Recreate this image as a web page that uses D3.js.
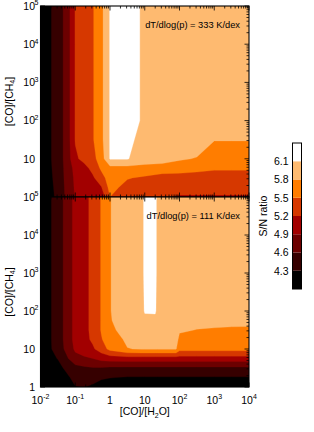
<!DOCTYPE html>
<html>
<head>
<meta charset="UTF-8">
<script src="https://cdn.jsdelivr.net/npm/d3@7"></script>
<style>
  body { margin: 0; background: #fff; }
  text { font-family: "Liberation Sans", Arial, Helvetica, sans-serif; fill: #000; }
</style>
</head>
<body>
<svg id="chart" width="314" height="432"></svg>
<script>
// S/N contour levels and the colours between them (below 4.3 is black)
const levels = [4.3, 4.6, 4.9, 5.2, 5.5, 5.8, 6.1];
const levelColors = ["#000000", "#360000", "#6c0000", "#a20000", "#d63800", "#ff7d00", "#feba70", "#ffffff"];

const xDecades = [-2, -1, 0, 1, 2, 3, 4];
const yDecades = [0, 1, 2, 3, 4, 5];

// top panel: dT/dlog(p) = 333 K/dex
// grid nodes in log10([CO]/[H2O]) and log10([CO]/[CH4]), rows from top to bottom
const topLogX = [-2, -1.75, -1.5, -1.25, -1, -0.75, -0.5, -0.25, 0, 0.5, 1, 1.5, 2, 2.5, 3, 3.5, 4];
const topLogY = [5, 4, 3, 2, 1.5, 1, 0.75, 0.5, 0.25, 0];
const topSN = [
  [4.0, 4.25, 4.45, 4.7, 5.22, 5.33, 5.47, 5.72, 6.12, 6.3, 6.02, 5.95, 5.95, 5.95, 5.95, 5.95, 5.95],
  [4.0, 4.25, 4.45, 4.7, 5.22, 5.33, 5.47, 5.72, 6.12, 6.3, 6.02, 5.95, 5.95, 5.95, 5.95, 5.95, 5.95],
  [4.0, 4.25, 4.45, 4.7, 5.22, 5.33, 5.47, 5.72, 6.12, 6.3, 6.02, 5.95, 5.95, 5.95, 5.95, 5.95, 5.95],
  [4.0, 4.25, 4.45, 4.7, 5.22, 5.33, 5.47, 5.72, 6.12, 6.3, 6.02, 5.95, 5.95, 5.95, 5.95, 5.95, 5.95],
  [4.0, 4.25, 4.45, 4.7, 5.22, 5.33, 5.47, 5.72, 6.12, 6.2, 5.95, 5.95, 5.95, 5.9, 5.81, 5.81, 5.81],
  [4.0, 4.25, 4.45, 4.7, 5.15, 5.28, 5.4, 5.65, 6.12, 6.12, 5.9, 5.88, 5.82, 5.79, 5.65, 5.65, 5.65],
  [4.0, 4.24, 4.43, 4.69, 5.0, 5.1, 5.28, 5.55, 5.7, 5.7, 5.73, 5.72, 5.7, 5.62, 5.55, 5.55, 5.55],
  [4.0, 4.22, 4.42, 4.68, 4.96, 5.0, 5.15, 5.38, 5.65, 5.52, 5.45, 5.33, 5.315, 5.31, 5.3, 5.3, 5.3],
  [4.0, 4.2, 4.4, 4.67, 4.94, 4.96, 5.0, 5.18, 5.6, 5.4, 5.32, 5.29, 5.28, 5.28, 5.28, 5.28, 5.28],
  [4.0, 4.18, 4.38, 4.66, 4.92, 4.93, 4.95, 5.0, 5.5, 5.3, 5.25, 5.22, 5.18, 5.18, 5.18, 5.18, 5.18]
];

// bottom panel: dT/dlog(p) = 111 K/dex
const botLogX = [-2, -1.75, -1.5, -1.25, -1, -0.75, -0.5, -0.25, 0, 0.5, 0.93, 1, 1.3, 1.37, 1.9, 2, 2.5, 3, 3.5, 4];
const botLogY = [5, 4, 3, 2, 1.75, 1.5, 1.25, 1, 0.75, 0.5, 0.25, 0];
const botSN = [
  [4.0, 4.25, 4.45, 4.7, 5.0, 5.1, 5.28, 5.52, 5.79, 5.95, 5.95, 6.25, 6.25, 5.95, 5.95, 5.95, 5.95, 5.95, 5.95, 5.95],
  [4.0, 4.25, 4.45, 4.7, 5.0, 5.1, 5.28, 5.52, 5.79, 5.95, 5.95, 6.25, 6.25, 5.95, 5.95, 5.95, 5.95, 5.95, 5.95, 5.95],
  [4.0, 4.25, 4.45, 4.7, 5.0, 5.1, 5.28, 5.52, 5.79, 5.95, 5.95, 6.25, 6.25, 5.95, 5.95, 5.95, 5.95, 5.95, 5.95, 5.95],
  [4.0, 4.25, 4.45, 4.7, 5.0, 5.1, 5.28, 5.52, 5.79, 5.95, 5.95, 6.15, 6.17, 5.95, 5.95, 5.95, 5.95, 5.95, 5.95, 5.95],
  [4.0, 4.25, 4.45, 4.7, 5.0, 5.1, 5.28, 5.52, 5.78, 5.95, 5.95, 5.95, 5.95, 5.95, 5.95, 5.92, 5.9, 5.9, 5.9, 5.9],
  [4.0, 4.25, 4.45, 4.7, 5.0, 5.1, 5.28, 5.52, 5.72, 5.95, 5.95, 5.95, 5.95, 5.95, 5.95, 5.85, 5.79, 5.77, 5.75, 5.74],
  [4.0, 4.25, 4.45, 4.7, 5.0, 5.1, 5.25, 5.48, 5.65, 5.85, 5.92, 5.92, 5.92, 5.92, 5.95, 5.7, 5.7, 5.68, 5.67, 5.66],
  [4.0, 4.25, 4.42, 4.68, 4.95, 5.05, 5.15, 5.35, 5.58, 5.79, 5.82, 5.82, 5.82, 5.82, 5.82, 5.6, 5.6, 5.6, 5.6, 5.6],
  [4.0, 4.15, 4.32, 4.55, 4.8, 4.85, 4.9, 5.0, 5.05, 5.07, 5.07, 5.07, 5.07, 5.07, 5.07, 5.07, 5.07, 5.07, 5.07, 5.07],
  [4.0, 4.1, 4.15, 4.4, 4.5, 4.55, 4.58, 4.58, 4.55, 4.55, 4.55, 4.55, 4.55, 4.55, 4.55, 4.55, 4.55, 4.55, 4.55, 4.55],
  [4.0, 4.05, 4.1, 4.2, 4.45, 4.4, 4.42, 4.33, 4.31, 4.28, 4.28, 4.28, 4.28, 4.28, 4.28, 4.28, 4.28, 4.28, 4.28, 4.28],
  [3.9, 4.0, 4.05, 4.1, 4.28, 4.31, 4.25, 4.2, 4.15, 4.1, 4.1, 4.1, 4.1, 4.1, 4.1, 4.1, 4.1, 4.1, 4.1, 4.1]
];

const plotLeft = 40.5, plotRight = 249;
const panels = [
  { top: 6, bottom: 197, lx: topLogX, ly: topLogY, sn: topSN, note: "dT/dlog(p) = 333 K/dex", labelOne: false },
  { top: 197, bottom: 387, lx: botLogX, ly: botLogY, sn: botSN, note: "dT/dlog(p) = 111 K/dex", labelOne: true }
];

const svg = d3.select("#chart");
const x = d3.scaleLog().domain([1e-2, 1e4]).range([plotLeft, plotRight]);

panels.forEach((p, pi) => {
  const y = d3.scaleLog().domain([1, 1e5]).range([p.bottom, p.top]);
  const g = svg.append("g");
  const clipId = `clip${pi}`;
  g.append("clipPath").attr("id", clipId)
    .append("rect")
    .attr("x", plotLeft).attr("y", p.top)
    .attr("width", plotRight - plotLeft).attr("height", p.bottom - p.top);

  const body = g.append("g").attr("clip-path", `url(#${clipId})`);
  body.append("rect")
    .attr("x", plotLeft).attr("y", p.top)
    .attr("width", plotRight - plotLeft).attr("height", p.bottom - p.top)
    .attr("fill", levelColors[0]);

  // contour the grid in index space, then map index -> log value -> pixel
  const nx = p.lx.length, ny = p.ly.length;
  const gx = d3.scaleLinear().domain(d3.range(nx)).range(p.lx).clamp(true);
  const gy = d3.scaleLinear().domain(d3.range(ny)).range(p.ly).clamp(true);
  const proj = d3.geoTransform({
    point(px, py) {
      this.stream.point(x(Math.pow(10, gx(px - 0.5))), y(Math.pow(10, gy(py - 0.5))));
    }
  });
  const path = d3.geoPath(proj);
  const contours = d3.contours().size([nx, ny]).thresholds(levels)(p.sn.flat());

  body.selectAll("path.band")
    .data(contours)
    .enter().append("path")
    .attr("class", "band")
    .attr("d", path)
    .attr("fill", (d, i) => levelColors[i + 1])
    .attr("stroke", (d, i) => levelColors[i + 1])
    .attr("stroke-width", 0.3);

  // frame
  g.append("rect")
    .attr("x", plotLeft).attr("y", p.top)
    .attr("width", plotRight - plotLeft).attr("height", p.bottom - p.top)
    .attr("fill", "none").attr("stroke", "#000").attr("stroke-width", 1.1);

  // ticks, pointing inward on all four sides
  const ticks = g.append("g").attr("stroke", "#000").attr("stroke-width", 0.8);
  x.ticks().forEach(t => {
    const major = Math.abs(Math.log10(t) - Math.round(Math.log10(t))) < 1e-6;
    const len = major ? 4.5 : 2.5;
    const xx = x(t);
    ticks.append("line").attr("x1", xx).attr("x2", xx).attr("y1", p.bottom).attr("y2", p.bottom - len);
    ticks.append("line").attr("x1", xx).attr("x2", xx).attr("y1", p.top).attr("y2", p.top + len);
  });
  y.ticks().forEach(t => {
    const major = Math.abs(Math.log10(t) - Math.round(Math.log10(t))) < 1e-6;
    const len = major ? 4.5 : 2.5;
    const yy = y(t);
    ticks.append("line").attr("x1", plotLeft).attr("x2", plotLeft + len).attr("y1", yy).attr("y2", yy);
    ticks.append("line").attr("x1", plotRight).attr("x2", plotRight - len).attr("y1", yy).attr("y2", yy);
  });

  // y tick labels
  yDecades.forEach(k => {
    if (k === 0 && !p.labelOne) return;
    const yy = y(Math.pow(10, k)) + 3.8;
    g.append("text").attr("x", 35).attr("y", yy)
      .attr("text-anchor", "end").attr("font-size", 10.5)
      .text(k === 0 ? "1" : "10");
    if (k > 1) {
      g.append("text").attr("x", 34.6).attr("y", yy - 4.5)
        .attr("font-size", 7).text(String(k));
    }
  });

  // y axis title
  const yt = g.append("text")
    .attr("transform", `translate(12.5,${(p.top + p.bottom) / 2}) rotate(-90)`)
    .attr("text-anchor", "middle").attr("font-size", 10.5);
  yt.append("tspan").text("[CO]/[CH");
  yt.append("tspan").attr("font-size", 7).attr("dy", 2.5).text("4");
  yt.append("tspan").attr("dy", -2.5).text("]");

  g.append("text")
    .attr("x", 240).attr("y", p.top + 21.5)
    .attr("text-anchor", "end").attr("font-size", 9.3)
    .text(p.note);
});

// x tick labels
const bottomY = panels[1].bottom;
xDecades.forEach(k => {
  const t = svg.append("text").attr("x", x(Math.pow(10, k))).attr("y", bottomY + 16.5)
    .attr("text-anchor", "middle").attr("font-size", 10.5);
  if (k === 0) t.text("1");
  else if (k === 1) t.text("10");
  else {
    t.append("tspan").text("10");
    t.append("tspan").attr("dy", -4.5).attr("font-size", 7).text(String(k));
  }
});

const xt = svg.append("text")
  .attr("x", x(10)).attr("y", bottomY + 28)
  .attr("text-anchor", "middle").attr("font-size", 10.5);
xt.append("tspan").text("[CO]/[H");
xt.append("tspan").attr("font-size", 7).attr("dy", 2.5).text("2");
xt.append("tspan").attr("dy", -2.5).text("O]");

// colour bar
const cbX = 292.5, cbW = 9, cbTop = 143, cbBottom = 289;
const cbScale = d3.scaleLinear().domain([4.0, 6.4]).range([cbBottom, cbTop]);
const cbEdges = [4.0, ...levels, 6.4];
const cb = svg.append("g");
cb.selectAll("rect.box")
  .data(levelColors)
  .enter().append("rect")
  .attr("class", "box")
  .attr("x", cbX)
  .attr("y", (d, i) => cbScale(cbEdges[i + 1]))
  .attr("width", cbW)
  .attr("height", (d, i) => cbScale(cbEdges[i]) - cbScale(cbEdges[i + 1]))
  .attr("fill", d => d);
cb.append("rect")
  .attr("x", cbX).attr("y", cbTop)
  .attr("width", cbW).attr("height", cbBottom - cbTop)
  .attr("fill", "none").attr("stroke", "#000").attr("stroke-width", 1);
cb.selectAll("text.lab")
  .data(levels)
  .enter().append("text")
  .attr("class", "lab")
  .attr("x", 288.5)
  .attr("y", d => cbScale(d) + 3.8)
  .attr("text-anchor", "end").attr("font-size", 10.5)
  .text(d => d.toFixed(1));
cb.append("text")
  .attr("transform", `translate(267,${(cbTop + cbBottom) / 2}) rotate(-90)`)
  .attr("text-anchor", "middle").attr("font-size", 10.5)
  .text("S/N ratio");
</script>
</body>
</html>
